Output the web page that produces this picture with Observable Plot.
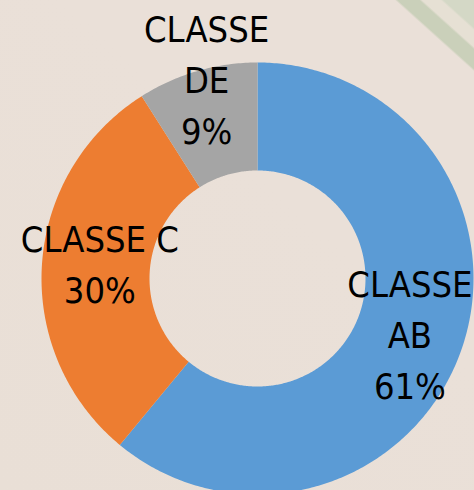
<!DOCTYPE html>
<html><head><meta charset="utf-8">
<script src="https://cdn.jsdelivr.net/npm/d3@7"></script>
<script src="https://cdn.jsdelivr.net/npm/@observablehq/plot@0.6"></script>
<style>
html,body{margin:0;padding:0;}
body{width:474px;height:490px;overflow:hidden;background:#EAE0D7;}
#chart{width:474px;height:490px;background:linear-gradient(42deg, #E9DFD6 0%, #EAE0D8 60%, #EAE0D8 92.2%, #CAD0BA 92.5%, #CAD0BA 94.6%, #E6E0D4 94.9%, #E6E0D4 96.7%, #D4D8C6 97%, #D4D8C6 100%);}
svg{display:block;}
</style></head><body><div id="chart"></div>
<script>
const categories = ["CLASSE AB", "CLASSE C", "CLASSE DE"];
const labelNames = ["CLASSE\nAB", "CLASSE C", "CLASSE\nDE"];
const values = [61, 30, 9];
const colors = ["#5B9BD5", "#ED7D31", "#A5A5A5"];

const outerR = 216, innerR = 108;
const total = d3.sum(values);
const arcs = d3.pie().sort(null).value(d => d)(values);

const pts = [];
arcs.forEach((a, i) => {
  const n = Math.max(8, Math.ceil((a.endAngle - a.startAngle) * 90));
  for (let k = 0; k <= n; k++) {
    const t = a.startAngle + (a.endAngle - a.startAngle) * k / n;
    pts.push({cat: categories[i], x: outerR * Math.sin(t), y: outerR * Math.cos(t)});
  }
  for (let k = n; k >= 0; k--) {
    const t = a.startAngle + (a.endAngle - a.startAngle) * k / n;
    pts.push({cat: categories[i], x: innerR * Math.sin(t), y: innerR * Math.cos(t)});
  }
});

// label placement: at the slice's mid-angle, small slices pushed outside the ring
const nudge = (i) => [[-1, 2], [5, 7], [6, 6]][i];
const labels = arcs.map((a, i) => {
  const mid = (a.startAngle + a.endAngle) / 2;
  const r = values[i] / total < 0.1 ? 204 : 163;
  const [nx, ny] = nudge(i);
  return {
    cat: categories[i],
    text: labelNames[i] + "\n" + Math.round(values[i] / total * 100) + "%",
    x: r * Math.sin(mid) + nx,
    y: r * Math.cos(mid) + ny
  };
});

const chart = Plot.plot({
  width: 474,
  height: 490,
  margin: 0,
  x: {domain: [-257, 217], axis: null},
  y: {domain: [-212, 278], axis: null},
  color: {domain: categories, range: colors},
  style: {background: "transparent", overflow: "visible"},
  marks: [
    Plot.line(pts, {x: "x", y: "y", z: "cat", fill: "cat", stroke: null, curve: "linear"}),
    Plot.text(labels, {
      x: "x", y: "y", text: "text",
      fill: "black",
      fontSize: 36,
      lineHeight: 1.42,
      fontFamily: "'DejaVu Sans Condensed', 'Liberation Sans', sans-serif",
      textAnchor: "middle"
    })
  ]
});
document.getElementById("chart").appendChild(chart);
</script>
</body></html>
